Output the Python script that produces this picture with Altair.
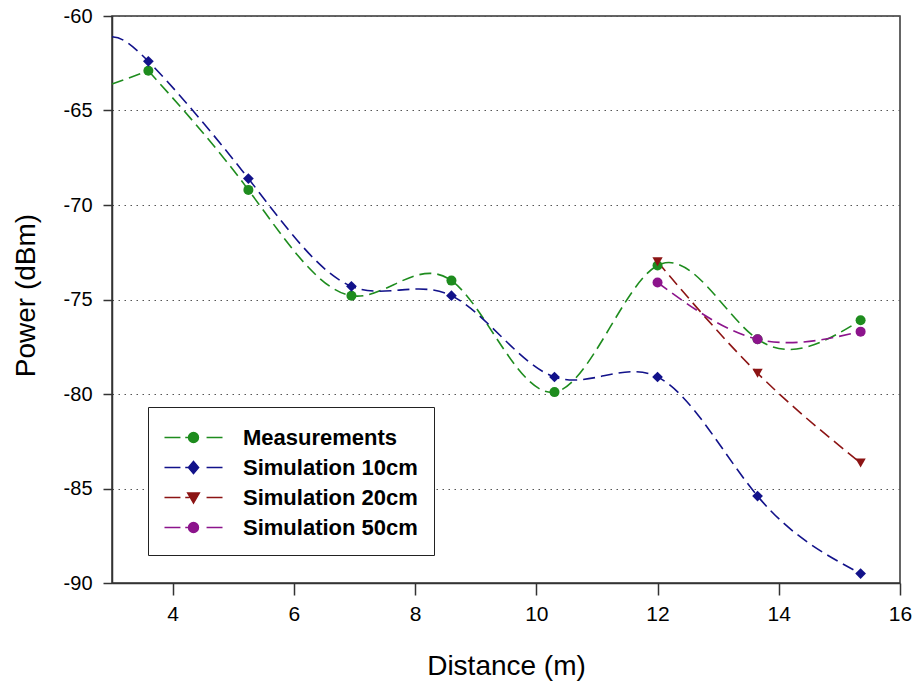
import altair as alt
import pandas as pd

# ---------------- data ----------------
distance = [3.6, 5.25, 6.95, 8.6, 10.3, 12.0, 13.65, 15.35]
measurements = [-62.9, -69.2, -74.8, -74.0, -79.9, -73.2, -77.1, -76.1]
sim_10cm = [-62.4, -68.6, -74.3, -74.8, -79.1, -79.1, -85.4, -89.5]
sim_20cm = [None, None, None, None, None, -73.0, -78.9, -83.65]
sim_50cm = [None, None, None, None, None, -74.1, -77.1, -76.7]

# where the fitted curves meet the left axis (x = 3)
curve_start_distance = 3.0
measurements_curve_start = -63.6
sim_10cm_curve_start = -61.1

series_names = ["Measurements", "Simulation 10cm", "Simulation 20cm", "Simulation 50cm"]
series_colors = ["#1e8c1e", "#12128a", "#8c1414", "#8c148c"]
series_shapes = ["circle", "diamond", "triangle-down", "circle"]
series_marker_sizes = [100, 115, 105, 100]
x_ticks = [4, 6, 8, 10, 12, 14, 16]
y_ticks = [-90, -85, -80, -75, -70, -65, -60]

# ---------------- tables ----------------
values_by_series = [measurements, sim_10cm, sim_20cm, sim_50cm]
point_rows = []
for name, shp, msz, vals in zip(series_names, series_shapes, series_marker_sizes, values_by_series):
    for d, v in zip(distance, vals):
        if v is not None:
            point_rows.append({"series": name, "marker": shp, "msize": msz, "distance": d, "power": v})
points_df = pd.DataFrame(point_rows)

line_rows = [{"series": r["series"], "part": r["series"], "distance": r["distance"], "power": r["power"]}
             for r in point_rows]
# blue curve: start point belongs to the same smooth curve
line_rows.append({"series": series_names[1], "part": series_names[1],
                  "distance": curve_start_distance, "power": sim_10cm_curve_start})
# green curve: short lead-in from the axis to the first measurement
line_rows.append({"series": series_names[0], "part": "lead",
                  "distance": curve_start_distance, "power": measurements_curve_start})
line_rows.append({"series": series_names[0], "part": "lead",
                  "distance": distance[0], "power": measurements[0]})
lines_df = pd.DataFrame(line_rows)

FONT = "Liberation Sans"

# ---------------- legend symbols: dash - marker - dash ----------------
dash = "M-2.11,0L-0.95,0M-0.6,0L-0.3,0M0.95,0L2.11,0"
circ = "M-0.36,0A0.36,0.36,0,1,0,0.36,0A0.36,0.36,0,1,0,-0.36,0Z"
diam = "M0,-0.44L0.37,0L0,0.44L-0.37,0Z"
tri = "M-0.42,-0.32L0.42,-0.32L0,0.4Z"
shape_expr = (
    f"datum.value === '{series_names[1]}' ? '{dash}{diam}' : "
    f"datum.value === '{series_names[2]}' ? '{dash}{tri}' : '{dash}{circ}'"
)
color_expr = (
    f"datum.value === '{series_names[0]}' ? '{series_colors[0]}' : "
    f"datum.value === '{series_names[1]}' ? '{series_colors[1]}' : "
    f"datum.value === '{series_names[2]}' ? '{series_colors[2]}' : '{series_colors[3]}'"
)

legend = alt.Legend(
    title=None,
    orient="none",
    legendX=36,
    legendY=391,
    padding=16,
    fillColor="white",
    strokeColor="#222222",
    symbolSize=756,
    symbolStrokeWidth=1.5,
    symbolOffset=15,
    symbolOpacity=1,
    symbolType={"expr": shape_expr},
    symbolStrokeColor={"expr": color_expr},
    symbolFillColor={"expr": color_expr},
    labelOffset=35,
    rowPadding=4,
    labelFont=FONT,
    labelFontSize=22,
    labelFontWeight="bold",
    labelColor="black",
    labelLimit=400,
)

x_enc = alt.X(
    "distance:Q",
    scale=alt.Scale(domain=[3, 16], nice=False, zero=False),
    axis=alt.Axis(
        values=x_ticks, title="Distance (m)", grid=False,
        labelExpr="toString(datum.value)",
        tickSize=12, labelPadding=8, labelFontSize=21, labelFont=FONT, labelColor="black",
        labelFlush=False, labelOverlap=False,
        titleFont=FONT, titleFontSize=28, titleFontWeight="normal", titleColor="black",
        titleY=91, titleBaseline="alphabetic",
        domainColor="#333333", domainWidth=1.5, tickColor="#333333", tickWidth=1.5,
    ),
)
y_enc = alt.Y(
    "power:Q",
    scale=alt.Scale(domain=[-90, -60], nice=False, zero=False),
    axis=alt.Axis(
        values=y_ticks, title="Power (dBm)", grid=True,
        labelExpr="toString(datum.value)",
        gridDash=[1.5, 4.5], gridColor="#555555", gridWidth=1,
        tickSize=9, labelPadding=11, labelFontSize=20, labelFont=FONT, labelColor="black",
        labelFlush=False, labelOverlap=False,
        titleFont=FONT, titleFontSize=28, titleFontWeight="normal", titleColor="black",
        titleX=-78, titleY=279, titleAngle=270, titleBaseline="alphabetic", titleAlign="center",
        domainColor="#333333", domainWidth=1.5, tickColor="#333333", tickWidth=1.5,
    ),
)

color_scale = alt.Scale(domain=series_names, range=series_colors)

# invisible layer that only carries the legend
legend_layer = alt.Chart(points_df).mark_point(filled=True, opacity=0).encode(
    x=x_enc, y=y_enc,
    color=alt.Color("series:N", scale=color_scale, legend=legend),
)

lines = alt.Chart(lines_df).mark_line(
    interpolate="natural", strokeDash=[12, 6], strokeWidth=1.6
).encode(
    x=x_enc, y=y_enc,
    color=alt.Color("series:N", scale=color_scale, legend=None),
    detail="part:N",
    order=alt.Order("distance:Q"),
)

points = alt.Chart(points_df).mark_point(filled=True, opacity=1).encode(
    x=x_enc, y=y_enc,
    color=alt.Color("series:N", scale=color_scale, legend=None),
    shape=alt.Shape("marker:N", scale=None),
    size=alt.Size("msize:Q", scale=None),
)

chart = alt.layer(legend_layer, lines, points).properties(
    width=788,
    height=567,
    padding={"left": 112, "top": 16, "right": 15, "bottom": 98},
    autosize=alt.AutoSizeParams(type="none"),
    background="white",
).configure_view(stroke="#333333", strokeWidth=1.5)

chart.save("out.html", embed_options={"renderer": "svg", "actions": False})
